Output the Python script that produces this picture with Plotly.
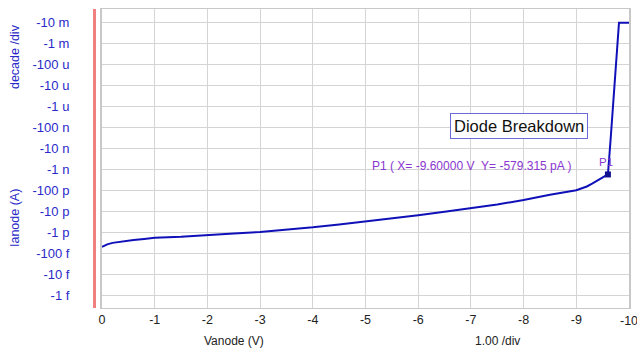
import plotly.graph_objects as go

# Data (Vanode in volts, Ianode in amps)
vanode = [0, -0.1, -0.2, -0.4, -0.6, -0.8, -1.0, -1.5, -2.0, -2.5, -3.0, -3.5,
          -4.0, -4.5, -5.0, -5.5, -6.0, -6.5, -7.0, -7.5, -8.0, -8.5, -9.0,
          -9.1, -9.2, -9.3, -9.4, -9.5, -9.55, -9.6, -9.65, -9.7, -9.75,
          -9.81, -10.0]
ianode = [-2.04e-13, -2.69e-13, -3.16e-13, -3.80e-13, -4.37e-13, -4.90e-13,
          -5.50e-13, -6.17e-13, -7.59e-13, -8.91e-13, -1.05e-12, -1.32e-12,
          -1.74e-12, -2.40e-12, -3.31e-12, -4.57e-12, -6.61e-12, -9.55e-12,
          -1.41e-11, -2.14e-11, -3.47e-11, -6.31e-11, -1.02e-10,
          -1.23e-10, -1.55e-10, -2.10e-10, -2.95e-10, -4.10e-10, -4.90e-10,
          -5.79315e-10, -2.51e-8, -1.58e-6, -1.0e-4, -1.0e-2, -1.0e-2]

marker_v = [-9.6]
marker_i = [-579.315e-12]

x_tick_vals = [0, -1, -2, -3, -4, -5, -6, -7, -8, -9, -10]
x_tick_text = ["0", "-1", "-2", "-3", "-4", "-5", "-6", "-7", "-8", "-9", "-10"]
y_tick_mag = [1e-2, 1e-3, 1e-4, 1e-5, 1e-6, 1e-7, 1e-8, 1e-9, 1e-10, 1e-11,
              1e-12, 1e-13, 1e-14, 1e-15]
y_tick_text = ["-10 m", "-1 m", "-100 u", "-10 u", "-1 u", "-100 n", "-10 n",
               "-1 n", "-100 p", "-10 p", "-1 p", "-100 f", "-10 f", "-1 f"]

FONT = "Liberation Sans, Arial, sans-serif"
BLUE_TXT = "#2a2ac8"
GRID = "#d4d4d4"
PURPLE = "#8a36d0"

fig = go.Figure()
fig.add_trace(go.Scatter(
    x=vanode, y=[-v for v in ianode], mode="lines",
    line=dict(color="#1010b8", width=2),
    hoverinfo="skip", showlegend=False))
fig.add_trace(go.Scatter(
    x=marker_v, y=[-v for v in marker_i], mode="markers",
    marker=dict(symbol="square", size=6, color="#101090"),
    hoverinfo="skip", showlegend=False))

fig.update_layout(
    width=637, height=352,
    margin=dict(l=102, r=8, t=9, b=44, autoexpand=False),
    paper_bgcolor="white", plot_bgcolor="white",
    font=dict(family=FONT, size=12, color="#222"),
    xaxis=dict(range=[0, -10], tickvals=x_tick_vals, ticktext=x_tick_text,
               showgrid=True, gridcolor=GRID, gridwidth=1, zeroline=False,
               showline=True, linecolor="#c8c8c8", linewidth=1, mirror=True,
               ticks="", automargin=False,
               tickfont=dict(family=FONT, size=12.5, color="#222")),
    yaxis=dict(type="log", range=[-15.606, -1.346], tickvals=y_tick_mag,
               ticktext=y_tick_text, showgrid=True, gridcolor=GRID,
               gridwidth=1, zeroline=False, showline=True,
               linecolor="#c8c8c8", linewidth=2, mirror=True, ticks="",
               ticklabelstandoff=28, automargin=False,
               tickfont=dict(family=FONT, size=13, color=BLUE_TXT)),
)

# red bar left of plot
fig.add_shape(type="line", xref="paper", yref="paper",
              x0=-0.0142, x1=-0.0142, y0=0, y1=1,
              line=dict(color="#f08080", width=3))

def A(text, x, y, **kw):
    d = dict(text=text, xref="paper", yref="paper", x=x, y=y,
             xanchor="center", yanchor="middle", showarrow=False)
    d.update(kw)
    return d

ann = [
    A("decade /div", -0.165, (308 - 57) / 299, textangle=-90,
      font=dict(family=FONT, size=12.5, color=BLUE_TXT)),
    A("Ianode (A)", -0.165, (308 - 218) / 299, textangle=-90,
      font=dict(family=FONT, size=12.5, color=BLUE_TXT)),
    A("Vanode (V)", (234 - 102) / 527, -0.11,
      font=dict(family=FONT, size=12, color="#222")),
    A("1.00 /div", (497 - 102) / 527, -0.11,
      font=dict(family=FONT, size=12, color="#222")),
    A("Diode Breakdown", (518.5 - 102) / 527, (308 - 126.5) / 299,
      bgcolor="white", bordercolor="#6a6ad8", borderwidth=1, borderpad=3,
      font=dict(family=FONT, size=16.5, color="#111")),
    A("P1 ( X= -9.60000 V\u00a0\u00a0Y= -579.315 pA )", (370 - 102) / 527,
      (308 - 166) / 299, xanchor="left",
      font=dict(family=FONT, size=12, color=PURPLE)),
    A("P1", (606 - 102) / 527, (308 - 162) / 299,
      font=dict(family=FONT, size=11.5, color=PURPLE)),
    dict(text=x_tick_text[-1], xref="x", x=x_tick_vals[-1], yref="paper",
         y=-0.045, xanchor="center", yanchor="middle", showarrow=False,
         font=dict(family=FONT, size=12.5, color="#222")),
]
fig.update_layout(annotations=ann)

fig.write_html("out.html", config={"displayModeBar": False},
               post_script="document.body.style.margin='0';"
                           "document.body.style.overflow='hidden';")
